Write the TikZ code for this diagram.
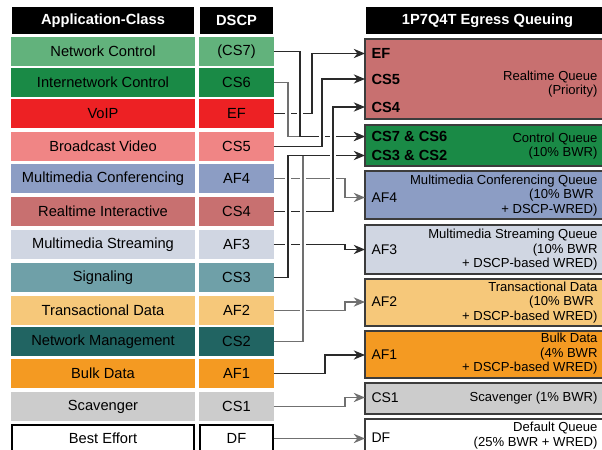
\documentclass[tikz,border=0pt]{standalone}
\usepackage{fontspec}
\setmainfont{Liberation Sans}
\usetikzlibrary{arrows.meta}

\definecolor{cNC}{HTML}{62B27C}
\definecolor{cIC}{HTML}{1A8A46}
\definecolor{cVO}{HTML}{ED2124}
\definecolor{cBV}{HTML}{F08585}
\definecolor{cMC}{HTML}{8C9DC4}
\definecolor{cRI}{HTML}{C87070}
\definecolor{cMS}{HTML}{D0D6E2}
\definecolor{cSG}{HTML}{6FA0A8}
\definecolor{cTD}{HTML}{F6C87A}
\definecolor{cNM}{HTML}{216462}
\definecolor{cBD}{HTML}{F49A22}
\definecolor{cSC}{HTML}{CCCCCC}
\definecolor{wireDk}{HTML}{2A2A2A}
\definecolor{wireLt}{HTML}{707070}
\definecolor{qline}{HTML}{3C3C3C}

\tikzset{every picture/.style={line width=0.75pt}}
\tikzset{
  hdr/.style={fill=black, text=white, font=\fontsize{11}{13}\selectfont\bfseries, minimum height=20.25pt, inner sep=0pt},
  clsbox/.style={minimum width=136.5pt, minimum height=20.25pt, inner sep=0pt, line width=1pt, font=\fontsize{11}{13}\selectfont},
  codebox/.style={clsbox, minimum width=54.75pt},
  qbox/.style={draw=qline, line width=1.2pt},
  qlab/.style={anchor=west, inner xsep=4.5pt, inner ysep=0pt, font=\fontsize{10.5}{12}\selectfont},
  qbold/.style={qlab, font=\fontsize{11}{13}\selectfont\bfseries},
  qtxt/.style={anchor=east, align=right, inner sep=0pt, font=\fontsize{9.8}{10.9}\selectfont},
  wire/.style={line width=0.9pt, -{Stealth[length=8.5pt,width=7pt,inset=2.8pt]}},
  wdark/.style={draw=wireDk},
  wgray/.style={draw=wireLt},
  bridge/.style={line width=0.9pt, preaction={draw=white, line width=5pt, shorten <=5pt, shorten >=5pt}},
}

\begin{document}
\begin{tikzpicture}[x=0.75pt,y=0.75pt,yscale=-1,xscale=1]
	\clip (0,0) rectangle (602,449);

	% Header Nodes
	\node[hdr, minimum width=136.5pt] (hcls) at (103,20.5) {Application-Class};
	\node[hdr, minimum width=54.75pt] (hcode) at (236.5,20.5) {DSCP};
	\node[hdr, minimum width=182.25pt] (hque) at (487.5,20.5) {1P7Q4T Egress Queuing};

	% Application classes and their DSCP values
	\foreach \y/\cls/\code/\col/\ln [count=\i from 0] in {
		51.5/Network Control/(CS7)/cNC/cNC,
		82.5/Internetwork Control/CS6/cIC/cIC,
		113.5/VoIP/EF/cVO/cVO,
		146.5/Broadcast Video/CS5/cBV/cBV,
		178.5/Multimedia Conferencing/AF4/cMC/cMC,
		211.5/Realtime Interactive/CS4/cRI/cRI,
		244.5/Multimedia Streaming/AF3/cMS/cMS,
		277.5/Signaling/CS3/cSG/cSG,
		310.5/Transactional Data/AF2/cTD/cTD,
		341.5/Network Management/CS2/cNM/cNM,
		373.5/Bulk Data/AF1/cBD/cBD,
		406.5/Scavenger/CS1/cSC/cSC,
		438.5/Best Effort/DF/white/black}
	{
		\node[clsbox, fill=\col, draw=\ln] (c\i) at (103,\y) {\cls};
		\node[codebox, fill=\col, draw=\ln] (d\i) at (236.5,\y) {\code};
	}

	%Shape: Rectangle -- egress queues
	\draw[qbox, fill=cRI] (365,39) rectangle (608,119);
	\draw[qbox, fill=cIC] (365,125) rectangle (608,166);
	\draw[qbox, fill=cMC] (365,171) rectangle (608,219);
	\draw[qbox, fill=cMS] (365,225) rectangle (608,274);
	\draw[qbox, fill=cTD] (365,279) rectangle (608,326);
	\draw[qbox, fill=cBD] (365,331) rectangle (608,378);
	\draw[qbox, fill=cSC] (365,383) rectangle (608,414);
	\draw[qbox, fill=white] (365,419) rectangle (608,470);

	% Text Node -- queue entries
	\node[qbold] (qef) at (365,53.5) {EF};
	\node[qbold] (qcs5) at (365,79) {CS5};
	\node[qbold] (qcs4) at (365,107) {CS4};
	\node[qbold] (qcs76) at (365,136.5) {CS7 \& CS6};
	\node[qbold] (qcs32) at (365,155.5) {CS3 \& CS2};
	\node[qlab] (qaf4) at (365,197.5) {AF4};
	\node[qlab] (qaf3) at (365,249.5) {AF3};
	\node[qlab] (qaf2) at (365,302) {AF2};
	\node[qlab] (qaf1) at (365,355) {AF1};
	\node[qlab] (qcs1) at (365,397.5) {CS1};
	\node[qlab] (qdf) at (365,437.5) {DF};

	% Text Node -- queue descriptions
	\node[qtxt] (trt) at (598,84) {Realtime Queue\\(Priority)};
	\node[qtxt] (tctl) at (598,146) {Control Queue\\(10\% BWR)};
	\node[qtxt] (tmmc) at (598,195.5) {Multimedia Conferencing Queue\\(10\% BWR\kern0.28em\\+ DSCP-WRED)};
	\node[qtxt] (tmms) at (598,250) {Multimedia Streaming Queue\\(10\% BWR\\+ DSCP-based WRED)};
	\node[qtxt] (ttd) at (598,302.5) {Transactional Data\\(10\% BWR\kern0.28em\\+ DSCP-based WRED)};
	\node[qtxt] (tbd) at (598,354) {Bulk Data\\(4\% BWR\\+ DSCP-based WRED)};
	\node[qtxt] (tsc) at (598,398) {Scavenger (1\% BWR)};
	\node[qtxt] (tdf) at (598,435.5) {Default Queue\\(25\% BWR + WRED)};

	% Connectors -- control queue
	\draw[wire, wgray] (d1.east) -| (288,0 |- qcs76.west) -- (qcs76.west);
	\draw[wire, wdark] (d0.east) -| (300,0 |- qcs76.west) -- (qcs76.west);
	\draw[wire, wdark] (d7.east) -| (288,0 |- qcs32.west) -- (qcs32.west);
	\draw[wire, wgray, -] (d9.east) -| (303,0 |- qcs32.west);
	% Connectors -- realtime queue
	\draw[wire, wdark] (d2.east) -| (312,0 |- qef.west) -- (qef.west);
	\draw[wire, wdark] (d3.east) -| (322,0 |- qcs5.west) -- (qcs5.west);
	\draw[wire, wdark] (d5.east) -| (333,0 |- qcs4.west) -- (qcs4.west);
	% Connectors -- the other queues
	\draw[wire, wgray] (d4.east) -| (345,0 |- qaf4.west) -- (qaf4.west);
	\draw[wire, wdark] (d6.east) -| (345,0 |- qaf3.west) -- (qaf3.west);
	\draw[wire, wgray] (d8.east) -| (345,0 |- qaf2.west) -- (qaf2.west);
	\draw[wire, wdark] (d10.east) -| (325,0 |- qaf1.west) -- (qaf1.west);
	\draw[wire, wgray] (d11.east) -| (345,0 |- qcs1.west) -- (qcs1.west);
	\draw[wire, wgray] (d12.east) -- (d12.east -| qdf.west);

	% Bridges: long verticals pass over the horizontal runs
	\foreach \x/\s/\t/\c in {300/d0/qcs76/wdark, 288/d1/qcs76/wgray, 322/d3/qcs5/wdark,
		288/d7/qcs32/wdark, 303/d9/qcs32/wgray, 333/d5/qcs4/wdark}
		\draw[bridge, \c] (\x,0 |- \s.east) -- (\x,0 |- \t.west);

\end{tikzpicture}
\end{document}
